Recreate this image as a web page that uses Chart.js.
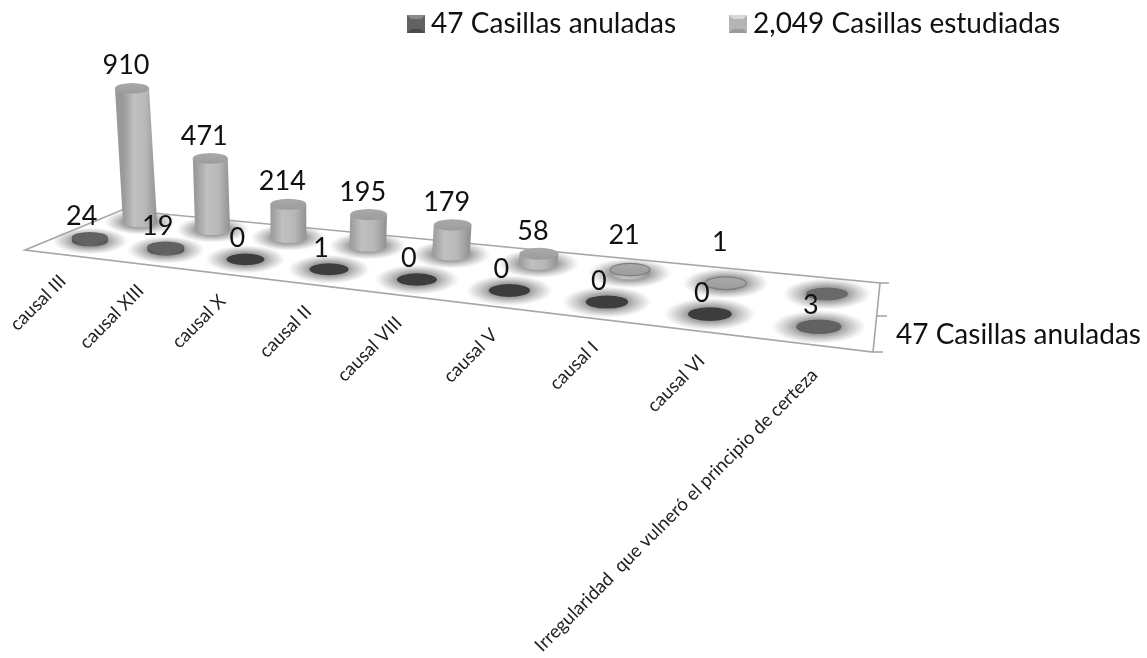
<!DOCTYPE html>
<html>
<head>
<meta charset="utf-8">
<style>html,body{margin:0;padding:0;background:#fff}canvas{display:block}</style>
<script src="https://cdn.jsdelivr.net/npm/chart.js@4"></script>
</head>
<body>
<canvas id="c" width="1147" height="658"></canvas>
<script>
const categories = ['causal III','causal XIII','causal X','causal II','causal VIII','causal V','causal I','causal VI','Irregularidad  que vulneró el principio de certeza'];
const anuladas = [24,19,0,1,0,0,0,0,3];
const estudiadas = [910,471,214,195,179,58,21,1,null];
const seriesNames = ['47 Casillas anuladas','2,049 Casillas estudiadas'];
const depthAxisLabel = '47 Casillas anuladas';

const FONT = 'Lato, Carlito, sans-serif';

// Category scale seen in perspective: pixel = (a + b*i) / (1 + c*i)
class PerspectiveScale extends Chart.CategoryScale {
  static id = 'perspective';
  project(i, p) { return (p.a + p.b * i) / (1 + p.c * i); }
  getPixelForValue(value) {
    if (typeof value !== 'number') value = this.parse(value);
    return value === null ? NaN : this.project(value, this.options.persp);
  }
  _computeLabelArea() { return undefined; }
  _computeLabelItems(area) {
    const items = super._computeLabelItems(area);
    const lp = this.options.labelPersp;
    if (!lp) return items;
    items.forEach((it, i) => {
      const ex = this.project(i, lp);
      it.textOffset = 0;
      it.options.textAlign = 'right';
      it.options.textBaseline = 'middle';
      it.options.translation = [ex, 278 + (ex - 63) * 0.125];
    });
    return items;
  }
}
Chart.register(PerspectiveScale);

function swatch(base, light, dark) {
  const s = document.createElement('canvas'); s.width = 18; s.height = 18;
  const g = s.getContext('2d');
  g.fillStyle = base; g.fillRect(0,0,18,18);
  g.fillStyle = light; g.beginPath(); g.moveTo(0,0); g.lineTo(18,0); g.lineTo(14,4); g.lineTo(4,4); g.closePath(); g.fill();
  g.fillStyle = dark; g.beginPath(); g.moveTo(0,18); g.lineTo(18,18); g.lineTo(14,14); g.lineTo(4,14); g.closePath(); g.fill();
  return s;
}
const swatches = [swatch('#626262','#8a8a8a','#4a4a4a'), swatch('#b4b4b4','#d8d8d8','#9a9a9a')];

function radialShadow(ctx, x, y, rx, ry) {
  ctx.save();
  ctx.translate(x, y); ctx.scale(rx * 2.1, ry * 2.4);
  const g = ctx.createRadialGradient(0,0,0,0,0,1);
  g.addColorStop(0, 'rgba(120,120,120,0.8)');
  g.addColorStop(0.5, 'rgba(125,125,125,0.7)');
  g.addColorStop(0.78, 'rgba(150,150,150,0.35)');
  g.addColorStop(1, 'rgba(170,170,170,0)');
  ctx.fillStyle = g;
  ctx.beginPath(); ctx.arc(0,0,1,0,Math.PI*2); ctx.fill();
  ctx.restore();
}

function ellipse(ctx, x, y, rx, ry) { ctx.beginPath(); ctx.ellipse(x,y,rx,ry,0,0,Math.PI*2); }

const rows = [
  { ds:0, ax:'x', g0:241, gx0:90, slope:0.118, size:1, lift:0.3,
    zero:'#3d3d3d', top:'#626262', side:['#555555','#666666','#555555'], outline:null },
  { ds:1, ax:'xBack', g0:222, gx0:140, slope:0.1048, size:0.93, lift:0.1,
    zero:'#696969', top:'#a9a9a9', side:['#999999','#c0c0c0','#b8b8b8','#929292'], outline:'#7d7d7d' }
];

const scenePlugin = {
  id: 'scene',
  beforeDatasetsDraw(chart) {
    const ctx = chart.ctx;
    ctx.save();
    ctx.strokeStyle = '#a6a6a6'; ctx.lineWidth = 1.6; ctx.fillStyle = '#fff';
    ctx.beginPath(); ctx.moveTo(25,250); ctx.lineTo(122,210); ctx.lineTo(880,283); ctx.lineTo(873,352); ctx.closePath();
    ctx.fill(); ctx.stroke();
    [[880,283,889],[877,316,887],[873,352,883]].forEach(t => { ctx.beginPath(); ctx.moveTo(t[0],t[1]); ctx.lineTo(t[2],t[1]); ctx.stroke(); });
    ctx.restore();
  },
  afterDatasetsDraw(chart) {
    const ctx = chart.ctx, y = chart.scales.y, texts = [];
    [rows[1], rows[0]].forEach(r => {
      const vals = chart.data.datasets[r.ds].data, xs = chart.scales[r.ax];
      const geo = vals.map((v, i) => {
        const x = xs.getPixelForValue(i);
        const s = (1 + (x - 90) * 0.00035) * r.size;
        const rx = 18 * s, ry = rx * 0.31;
        const gy = r.g0 + (x - r.gx0) * r.slope;
        const h = v == null ? 0 : (y.getPixelForValue(0) - y.getPixelForValue(v)) * (1 + (x - 140) * 0.0004);
        return { v, x, rx, ry, gy, h };
      });
      geo.forEach(g => radialShadow(ctx, g.x, g.gy, g.rx, g.ry));
      geo.forEach(g => {
        const tx = g.x + g.h * (g.x - 300) / 2680, ty = g.gy - g.h;
        const hasLid = g.v != null && g.h >= r.lift;
        if (!hasLid) {
          ctx.fillStyle = r.zero; ellipse(ctx, g.x, g.gy, g.rx, g.ry); ctx.fill();
        } else {
          const grad = ctx.createLinearGradient(g.x - g.rx, 0, g.x + g.rx, 0);
          r.side.forEach((c, k) => grad.addColorStop(k / (r.side.length - 1), c));
          ctx.fillStyle = grad;
          ctx.beginPath();
          ctx.moveTo(tx - g.rx, ty);
          ctx.lineTo(g.x - g.rx, g.gy);
          ctx.ellipse(g.x, g.gy, g.rx, g.ry, 0, Math.PI, 0, true);
          ctx.lineTo(tx + g.rx, ty);
          ctx.closePath();
          ctx.fill();
          const lid = ctx.createLinearGradient(0, ty - g.ry, 0, ty + g.ry);
          lid.addColorStop(0, r.top);
          lid.addColorStop(1, r.ds ? '#9c9c9c' : r.top);
          ctx.fillStyle = lid;
          ellipse(ctx, tx, ty, g.rx, g.ry); ctx.fill();
          if (r.outline && g.h < 6) { ctx.strokeStyle = r.outline; ctx.lineWidth = 1.2; ctx.stroke(); }
        }
        if (g.v != null) {
          const lift = r.ds ? Math.max(0, (58 - g.v) * 0.33) : 0;
          texts.push([String(g.v), tx - (r.ds ? 6 : 8), ty - (r.ds ? 22.5 : 21) - lift]);
        }
      });
    });
    ctx.save();
    ctx.fillStyle = '#111'; ctx.textAlign = 'center'; ctx.textBaseline = 'middle';
    ctx.font = '27px ' + FONT;
    texts.forEach(t => ctx.fillText(t[0], t[1], t[2]));
    ctx.textAlign = 'left';
    ctx.font = '28px ' + FONT;
    ctx.fillText(depthAxisLabel, 896, 335);
    ctx.restore();
  }
};

new Chart(document.getElementById('c'), {
  type: 'bar',
  plugins: [scenePlugin],
  data: {
    labels: categories,
    datasets: [
      { label: seriesNames[0], data: anuladas, xAxisID:'x', backgroundColor:'transparent', borderWidth:0 },
      { label: seriesNames[1], data: estudiadas, xAxisID:'xBack', backgroundColor:'transparent', borderWidth:0 }
    ]
  },
  options: {
    responsive:false, animation:false, grouped:false,
    layout:{ padding:{ top:-51, right:26, left:0, bottom:0 } },
    scales:{
      x:{ type:'perspective', axis:'x', position:'bottom', offset:false,
          persp:{a:90,b:72,c:-0.02332}, labelPersp:{a:63,b:74.4,c:-0.024},
          grid:{display:false}, border:{display:false},
          ticks:{ autoSkip:false, minRotation:45, maxRotation:45, color:'#222', font:{family:FONT,size:18.5} },
          afterFit(s){ s.height = 60; } },
      xBack:{ type:'perspective', axis:'x', position:'bottom', display:false,
          persp:{a:140,b:68,c:-0.0216} },
      y:{ display:false, min:0, max:3740 }
    },
    plugins:{
      tooltip:{enabled:false},
      legend:{ position:'top', align:'end',
        labels:{ usePointStyle:true, pointStyleWidth:2, padding:61, color:'#111',
          font:{family:FONT,size:28},
          generateLabels(chart){
            return chart.data.datasets.map((d,i)=>({ text:d.label, pointStyle:swatches[i], datasetIndex:i, fontColor:'#111', lineWidth:0, fillStyle:'#888', strokeStyle:'#888' }));
          } } }
    }
  }
});
</script>
</body>
</html>
